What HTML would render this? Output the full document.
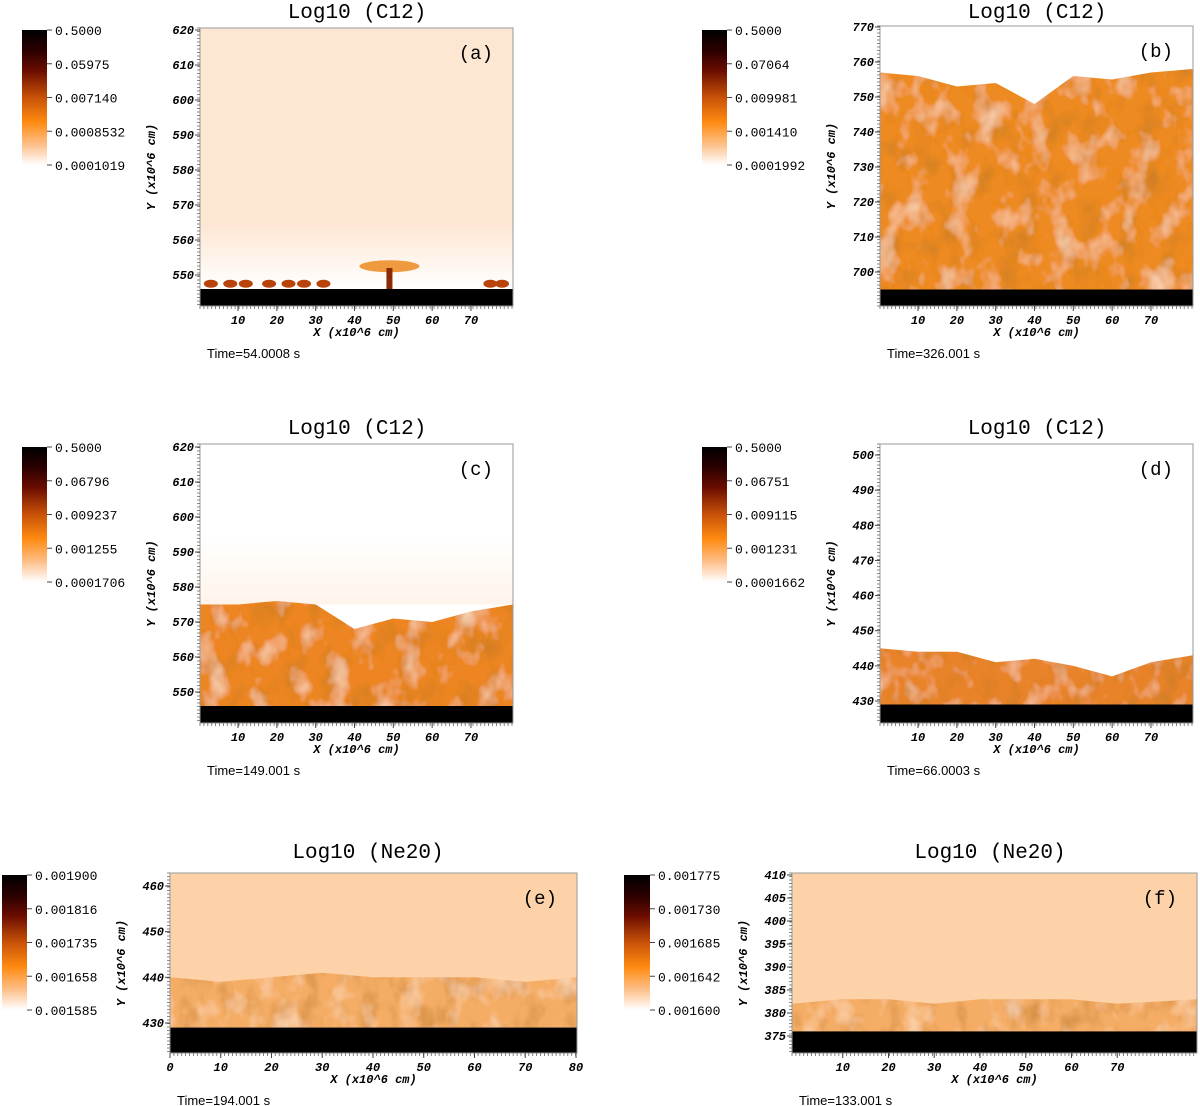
<!DOCTYPE html>
<html><head><meta charset="utf-8"><style>
html,body{margin:0;padding:0;background:#fff;}
svg{display:block;}
.t{font-family:"Liberation Mono",monospace;font-size:21px;fill:#000;}
.tk{font-family:"Liberation Mono",monospace;font-size:12px;font-weight:bold;font-style:italic;fill:#000;}
.cb{font-family:"Liberation Mono",monospace;font-size:13px;fill:#000;}
.tm{font-family:"Liberation Sans",sans-serif;font-size:13px;fill:#000;}
.lt{font-family:"Liberation Mono",monospace;font-size:19px;fill:#000;}
</style></head><body>
<svg id="fig" width="1200" height="1106" viewBox="0 0 1200 1106" xmlns="http://www.w3.org/2000/svg">
<defs>
<linearGradient id="cbg" x1="0" y1="0" x2="0" y2="1">
<stop offset="0" stop-color="#000"/><stop offset="0.15" stop-color="#2a0000"/><stop offset="0.3" stop-color="#6a0c00"/>
<stop offset="0.5" stop-color="#c85208"/><stop offset="0.68" stop-color="#ff8a10"/><stop offset="0.85" stop-color="#fdc08a"/><stop offset="1" stop-color="#fff"/>
</linearGradient>
<linearGradient id="fadeA" x1="0" y1="0" x2="0" y2="1">
<stop offset="0" stop-color="#fde6d2" stop-opacity="1"/><stop offset="1" stop-color="#ffffff" stop-opacity="1"/>
</linearGradient>
<linearGradient id="fadeC" x1="0" y1="0" x2="0" y2="1">
<stop offset="0" stop-color="#ffffff"/><stop offset="1" stop-color="#fff4ea"/>
</linearGradient>
<filter id="tex" x="0" y="0" width="1" height="1">
<feTurbulence type="fractalNoise" baseFrequency="0.05 0.035" numOctaves="3" seed="4" result="n"/>
<feColorMatrix in="n" type="matrix" values="0 0 0 0 0.55  0 0 0 0 0.2  0 0 0 0 0.02  0 0 0 1.6 -0.75" result="c"/>
<feComposite in="c" in2="SourceGraphic" operator="in" result="cc"/>
<feTurbulence type="fractalNoise" baseFrequency="0.04 0.03" numOctaves="3" seed="11" result="n2"/>
<feColorMatrix in="n2" type="matrix" values="0 0 0 0 1  0 0 0 0 0.8  0 0 0 0 0.6  0 0 0 1.6 -0.8" result="c2"/>
<feComposite in="c2" in2="SourceGraphic" operator="in" result="cc2"/>
<feMerge><feMergeNode in="SourceGraphic"/><feMergeNode in="cc"/><feMergeNode in="cc2"/></feMerge>
</filter>
</defs>
</svg>
<script>
// ---- data arrays ----
const panelIds = ['a','b','c','d','e','f'];
const titles = ['Log10 (C12)','Log10 (C12)','Log10 (C12)','Log10 (C12)','Log10 (Ne20)','Log10 (Ne20)'];
const times = ['Time=54.0008 s','Time=326.001 s','Time=149.001 s','Time=66.0003 s','Time=194.001 s','Time=133.001 s'];
const yTicksA = [550,560,570,580,590,600,610,620];
const yTicksB = [700,710,720,730,740,750,760,770];
const yTicksC = [550,560,570,580,590,600,610,620];
const yTicksD = [430,440,450,460,470,480,490,500];
const yTicksE = [430,440,450,460];
const yTicksF = [375,380,385,390,395,400,405,410];
const xTicks17 = [10,20,30,40,50,60,70];
const xTicks08 = [0,10,20,30,40,50,60,70,80];
const cbA = ['0.5000','0.05975','0.007140','0.0008532','0.0001019'];
const cbB = ['0.5000','0.07064','0.009981','0.001410','0.0001992'];
const cbC = ['0.5000','0.06796','0.009237','0.001255','0.0001706'];
const cbD = ['0.5000','0.06751','0.009115','0.001231','0.0001662'];
const cbE = ['0.001900','0.001816','0.001735','0.001658','0.001585'];
const cbF = ['0.001775','0.001730','0.001685','0.001642','0.001600'];
// mixing-layer top heights (y units) at x = 0,10,...,80
const topA = [546,546,546,546,546,546,546,546,546];
const topB = [757,756,753,754,748,756,755,757,758];
const topC = [575,575,576,575,568,571,570,573,575];
const topD = [445,444,444,441,442,440,437,441,443];
const topE = [440,439,440,441,440,440,440,439,440];
const topF = [382,383,383,382,383,383,383,382,383];
const baseY = [546,695,546,429,429,376];

// ---- layout (pixels) ----
const L = [
 {plot:[200,28,513,306], y0:620,y0p:30,y1:550,y1p:275, x0:0,x0p:199.2,x1:80,x1p:509.8, cb:[22,30,47,165], bg:'#fde6d2', turb:'#e07a20', yt:yTicksA, xt:xTicks17, cbl:cbA, top:topA, tx:357, ty:18},
 {plot:[880,26,1193,306], y0:770,y0p:27,y1:700,y1p:272, x0:0,x0p:879.2,x1:80,x1p:1189.8, cb:[702,30,727,165], bg:'#ffffff', turb:'#ee8a24', yt:yTicksB, xt:xTicks17, cbl:cbB, top:topB, tx:1037, ty:18},
 {plot:[200,444,513,723], y0:620,y0p:447,y1:550,y1p:692, x0:0,x0p:199.2,x1:80,x1p:509.8, cb:[22,447,47,582], bg:'#ffffff', turb:'#ec8520', yt:yTicksC, xt:xTicks17, cbl:cbC, top:topC, tx:357, ty:434},
 {plot:[880,444,1193,723], y0:500,y0p:455,y1:430,y1p:701, x0:0,x0p:879.2,x1:80,x1p:1189.8, cb:[702,447,727,582], bg:'#ffffff', turb:'#e9832a', yt:yTicksD, xt:xTicks17, cbl:cbD, top:topD, tx:1037, ty:434},
 {plot:[170,873,577,1053], y0:460,y0p:886,y1:430,y1p:1023, x0:0,x0p:170,x1:80,x1p:576, cb:[2,875,27,1010], bg:'#fdd2a8', turb:'#f5ad66', yt:yTicksE, xt:xTicks08, cbl:cbE, top:topE, tx:368, ty:858},
 {plot:[792,873,1197,1053], y0:410,y0p:875,y1:375,y1p:1036, x0:0,x0p:797,x1:80,x1p:1163, cb:[624,875,650,1010], bg:'#fdd2a8', turb:'#f5ad66', yt:yTicksF, xt:xTicks17, cbl:cbF, top:topF, tx:990, ty:858}
];
const NS='http://www.w3.org/2000/svg';
const svg=document.getElementById('fig');
function mk(tag,attrs,parent){const e=document.createElementNS(NS,tag);for(const k in attrs)e.setAttribute(k,attrs[k]);(parent||svg).appendChild(e);return e;}

L.forEach((p,i)=>{
  const id=panelIds[i];
  const g=mk('g',{});
  
  
  const yS=v=>p.y0p+(p.y0-v)*(p.y1p-p.y0p)/(p.y0-p.y1);
  const xS=v=>p.x0p+(v-p.x0)*(p.x1p-p.x0p)/(p.x1-p.x0);
  const [l,t,r,b]=p.plot;
  const bg=mk('rect',{x:l,y:t,width:r-l,height:b-t,fill:p.bg},g);
  
  
  if(i===2){
    const band=mk('rect',{x:l,y:yS(595),width:r-l,height:yS(575)-yS(595),fill:'url(#fadeC)'},g);
    
    
  }
  if(i===0){
    const band=mk('rect',{x:l,y:yS(565),width:r-l,height:yS(546)-yS(565),fill:'url(#fadeA)'},g);
    
    
  }
  const base=yS(baseY[i]);
  let d='M'+l+','+base;
  const n=p.top.length;
  for(let k=0;k<n;k++){
    const xv=k*10; let xp=Math.min(Math.max(xS(xv),l),r);
    if(k===n-1) xp=r;
    if(k===0) xp=l;
    d+=' L'+xp.toFixed(1)+','+yS(p.top[k]).toFixed(1);
  }
  d+=' L'+r+','+base+' Z';
  if(i!==0){
    const turb=mk('path',{d:d,fill:p.turb,filter:'url(#tex)'},g);
    
    
  } else {
    const plumesX=[3,8,12,18,23,27,32,75,78];
    plumesX.forEach(xv=>{
      const c=mk('ellipse',{cx:xS(xv),cy:yS(547.5),rx:7,ry:4,fill:'#b8440c'},g);
      
      
    });
    const m=mk('ellipse',{cx:xS(49),cy:yS(552.5),rx:30,ry:6,fill:'#f09a40'},g);
    
    
    const s=mk('rect',{x:xS(49)-3,y:yS(552),width:6,height:yS(546)-yS(552),fill:'#8a2a06'},g);
    
    
  }
  const blk=mk('rect',{x:l,y:base,width:r-l,height:b-base,fill:'#000'},g);
  
  
  const fr=mk('rect',{x:l,y:t,width:r-l,height:b-t,fill:'none',stroke:'#999','stroke-width':1},g);
  
  
  let md='';
  for(let x=l;x<=r;x+=3.9) md+='M'+x.toFixed(1)+','+b+' v3 ';
  for(let y=t;y<=b;y+=3.5) md+='M'+l+','+y.toFixed(1)+' h-3 ';
  const mt=mk('path',{d:md,stroke:'#666','stroke-width':0.8,fill:'none'},g);
  
  
  p.yt.forEach(v=>{
    const y=yS(v);
    const tl=mk('text',{x:l-6,y:y+4,'text-anchor':'end',class:'tk'},g);
    tl.textContent=v;
    
    
    const tk=mk('line',{x1:l-5,x2:l,y1:y,y2:y,stroke:'#444'},g);
    
    
  });
  p.xt.forEach(v=>{
    const x=xS(v);
    const tl=mk('text',{x:x,y:b+18,'text-anchor':'middle',class:'tk'},g);
    tl.textContent=v;
    
    
    const tk=mk('line',{x1:x,x2:x,y1:b,y2:b+5,stroke:'#444'},g);
    
    
  });
  const xt=mk('text',{x:(l+r)/2,y:b+30,'text-anchor':'middle',class:'tk'},g);
  xt.textContent='X (x10^6 cm)';
  
  
  const yx=l-45, yy=(t+b)/2;
  const ytt=mk('text',{x:yx,y:yy,'text-anchor':'middle',class:'tk',transform:'rotate(-90 '+yx+' '+yy+')'},g);
  ytt.textContent='Y (x10^6 cm)';
  
  
  const ti=mk('text',{x:p.tx,y:p.ty,'text-anchor':'middle',class:'t'},g);
  ti.textContent=titles[i];
  
  
  const lt=mk('text',{x:r-20,y:t+31,'text-anchor':'end',class:'lt'},g);
  lt.textContent='('+id+')';
  
  
  const tm=mk('text',{x:l+7,y:b+52,class:'tm'},g);
  tm.textContent=times[i];
  
  
  const [cl,ct,cr,cbm]=p.cb;
  const cbr=mk('rect',{x:cl,y:ct,width:cr-cl,height:cbm-ct,fill:'url(#cbg)'},g);
  
  
  p.cbl.forEach((s,k)=>{
    const y=ct+k*(cbm-ct)/(p.cbl.length-1);
    const ln=mk('line',{x1:cr,x2:cr+5,y1:y,y2:y,stroke:'#444'},g);
    
    
    const tx=mk('text',{x:cr+8,y:y+5,class:'cb'},g);
    tx.textContent=s;
    
    
  });
});
</script>
</body></html>
